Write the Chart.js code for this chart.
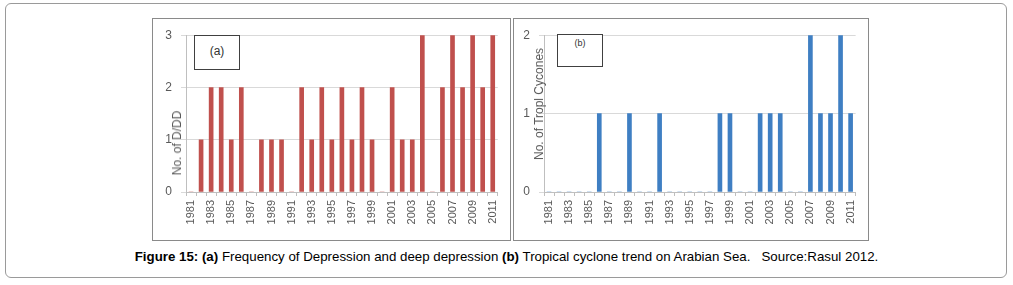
<!DOCTYPE html>
<html>
<head>
<meta charset="utf-8">
<script src="https://cdn.jsdelivr.net/npm/chart.js@4.4.1/dist/chart.umd.min.js"></script>
<style>
  html, body { margin: 0; padding: 0; background: #fff; width: 1013px; height: 285px; overflow: hidden; font-family: "Liberation Sans", Arial, sans-serif; }
  .outer { position: absolute; left: 5px; top: 3px; width: 1000px; height: 273px; border: 1px solid #9a9a9a; border-radius: 6px; }
  .frame { position: absolute; border: 1px solid #8a8a8a; background: #fff; }
  .frame canvas { position: absolute; left: 0; top: 0; }
  .inset { position: absolute; border: 1px solid #404040; background: #fff; font-size: 11px; color: #333; text-align: center; }
  .ytitle { position: absolute; color: #595959; font-size: 12px; white-space: nowrap; transform-origin: center center; transform: translate(-50%, -50%) rotate(-90deg); }
  .caption { position: absolute; left: 0; width: 1013px; top: 249px; text-align: center; font-size: 13.3px; color: #000; white-space: nowrap; }
</style>
</head>
<body>
<div class="outer"></div>
<div class="frame" style="left:152px; top:18px; width:357px; height:221px;">
  <canvas id="ca" width="357" height="221"></canvas>
</div>
<div class="frame" style="left:513px; top:18px; width:354px; height:221px;">
  <canvas id="cb" width="354" height="221"></canvas>
</div>
<div class="inset" style="left:194px; top:35px; width:44px; height:33px; line-height:31px; font-size:12px;">(a)</div>
<div class="inset" style="left:557px; top:34px; width:44px; height:31px; line-height:16px; font-size:9px;">(b)</div>
<div class="ytitle" style="left:177px; top:143px;">No. of D/DD</div>
<div class="ytitle" style="left:539px; top:104px;">No. of Tropl Cycones</div>
<div class="caption"><b>Figure 15: (a)</b> Frequency of Depression and deep depression <b>(b)</b> Tropical cyclone trend on Arabian Sea.&nbsp;&nbsp; Source:Rasul 2012.</div>
<script>
const years = ["1981","1982","1983","1984","1985","1986","1987","1988","1989","1990","1991","1992","1993","1994","1995","1996","1997","1998","1999","2000","2001","2002","2003","2004","2005","2006","2007","2008","2009","2010","2011"];
const depressions = [0,1,2,2,1,2,0,1,1,1,0,2,1,2,1,2,1,2,1,0,2,1,1,3,0,2,3,2,3,2,3];
const cyclones = [0,0,0,0,0,1,0,0,1,0,0,1,0,0,0,0,0,1,1,0,0,1,1,1,0,0,2,1,1,2,1];
const yTicksA = [0,1,2,3];
const yTicksB = [0,1,2];

function makeChart(id, data, color, yMax, yTicks, yWidth, xHeight, pad) {
  return new Chart(document.getElementById(id), {
    type: 'bar',
    data: { labels: years, datasets: [{ data: data, backgroundColor: color, borderWidth: 0, barThickness: 4 }] },
    options: {
      responsive: false, animation: false,
      layout: { padding: pad },
      plugins: { legend: { display: false }, tooltip: { enabled: false } },
      scales: {
        x: {
          offset: true,
          grid: { display: true, drawOnChartArea: false, drawTicks: true, tickLength: 4, color: '#BFBFBF', offset: true },
          border: { display: true, color: '#BFBFBF' },
          ticks: {
            autoSkip: false, maxRotation: 90, minRotation: 90, padding: 4,
            color: '#595959', font: { family: 'Liberation Sans', size: 11 },
            callback: function(v, i) { return i % 2 === 0 ? years[i] : ''; }
          },
          afterFit: function(s) { s.height = xHeight; }
        },
        y: {
          min: 0, max: yMax,
          afterBuildTicks: function(s) { s.ticks = yTicks.map(v => ({ value: v })); },
          grid: { color: '#D9D9D9', tickLength: 5, drawTicks: true },
          border: { display: true, color: '#BFBFBF' },
          ticks: { padding: 9, color: '#595959', font: { family: 'Liberation Sans', size: 12 } },
          afterFit: function(s) { s.width = yWidth; }
        }
      }
    }
  });
}
makeChart('ca', depressions, '#C0504D', 3, yTicksA, 33, 48, { top: 15, right: 4, left: 0, bottom: 0 });
makeChart('cb', cyclones, '#3F7FC3', 2, yTicksB, 30, 48, { top: 10, right: 12, left: 0, bottom: 0 });
</script>
</body>
</html>
